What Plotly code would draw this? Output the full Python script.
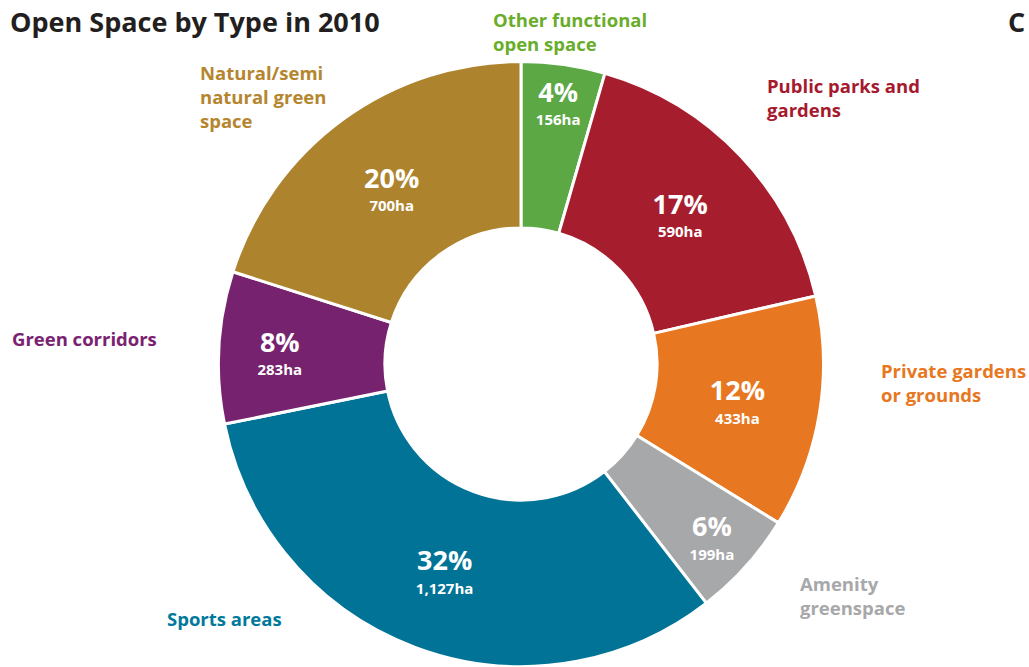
import plotly.graph_objects as go

# Open space categories, clockwise from 12 o'clock
categories = [
    "Other functional open space",
    "Public parks and gardens",
    "Private gardens or grounds",
    "Amenity greenspace",
    "Sports areas",
    "Green corridors",
    "Natural/semi natural green space",
]
hectares = [156, 590, 433, 199, 1127, 283, 700]

slice_colors = ["#5BA845", "#A61E2D", "#E87722", "#A7A8AA", "#007396", "#77226E", "#AE832E"]
label_colors = ["#6AAD2B", "#A6192E", "#E87722", "#A7A8AA", "#00799B", "#7A2271", "#B5862E"]

# Outside label text and anchor (pixel x, pixel y of first line top)
label_text = [
    "Other functional<br>open space",
    "Public parks and<br>gardens",
    "Private gardens<br>or grounds",
    "Amenity<br>greenspace",
    "Sports areas",
    "Green corridors",
    "Natural/semi<br>natural green<br>space",
]
label_pos = [(491, 5), (765, 71), (879, 356), (798, 569), (165, 604), (10, 324), (198, 58)]

W, H = 1029, 667
FONT = "Open Sans"

fig = go.Figure()

cx, cy, d = 521, 364, 605
fig.add_trace(go.Pie(
    labels=categories,
    values=hectares,
    sort=False,
    direction="clockwise",
    rotation=0,
    hole=0.45,
    marker=dict(colors=slice_colors, line=dict(color="white", width=3)),
    texttemplate=("<b><span style='font-size:27px'>%{percent:.0%}</span></b><br>"
                  "<b><span style='font-size:15px'>%{value:,}ha</span></b>"),
    textposition="inside",
    insidetextorientation="horizontal",
    textfont=dict(family=FONT, size=18, color="white"),
    domain=dict(x=[(cx - d / 2) / W, (cx + d / 2) / W],
                y=[(H - cy - d / 2) / H, (H - cy + d / 2) / H]),
    showlegend=False,
    hoverinfo="label+value+percent",
))

annotations = [
    dict(text="<b>Open Space by Type in 2010</b>", x=8 / W, y=1 - 1 / H,
         xref="paper", yref="paper", xanchor="left", yanchor="top",
         showarrow=False, font=dict(family=FONT, size=27, color="#231F20")),
    dict(text="<b>C</b>", x=1 - 2 / W, y=1 - 1 / H,
         xref="paper", yref="paper", xanchor="right", yanchor="top",
         showarrow=False, font=dict(family=FONT, size=27, color="#231F20")),
]
for txt, (px, py), col in zip(label_text, label_pos, label_colors):
    annotations.append(dict(
        text=f"<b>{txt}</b>", x=px / W, y=1 - py / H,
        xref="paper", yref="paper", xanchor="left", yanchor="top", align="left",
        showarrow=False, font=dict(family=FONT, size=18.5, color=col),
    ))

fig.update_layout(
    width=W, height=H,
    margin=dict(l=0, r=0, t=0, b=0),
    paper_bgcolor="white",
    plot_bgcolor="white",
    annotations=annotations,
)

fig.write_html("out.html")
